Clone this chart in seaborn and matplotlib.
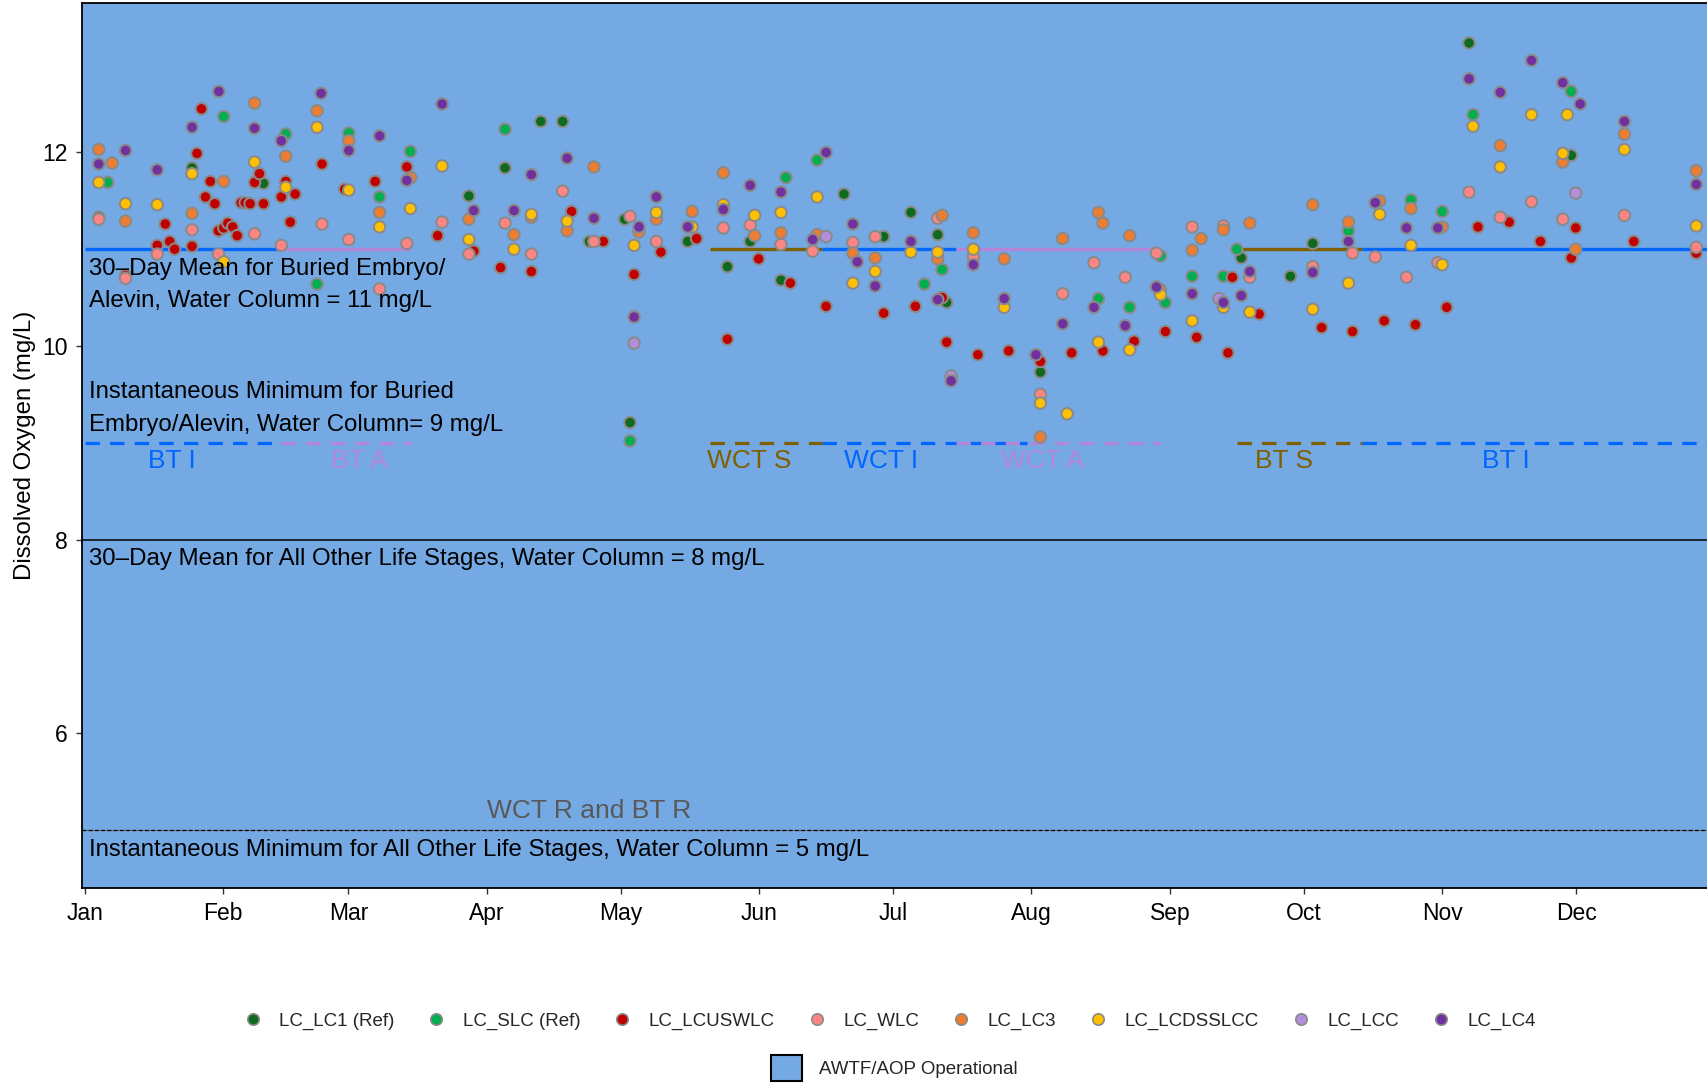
import numpy as np
import pandas as pd
import matplotlib
matplotlib.use("Agg")
import matplotlib.pyplot as plt
import matplotlib.dates as mdates
import matplotlib.transforms as mtransforms
from matplotlib.lines import Line2D
from matplotlib.patches import Patch
import seaborn as sns

YEAR_START = pd.Timestamp("2021-01-01")

# ---- dissolved oxygen samples: day offset from 1 Jan, DO in mg/L ----
lc1_day = [24.0, 40.0, 86.0, 94.1, 102.1, 107.0, 113.0, 120.9, 122.1, 135.0, 143.9, 149.0,
           155.9, 170.0, 178.9, 185.0, 191.0, 193.0, 214.0, 259.0, 270.0, 275.0, 310.0, 332.9]
lc1_do = [11.84, 11.68, 11.55, 11.84, 12.32, 12.32, 11.08, 11.31, 9.21, 11.08, 10.82, 11.08,
          10.68, 11.57, 11.13, 11.38, 11.15, 10.45, 9.73, 10.91, 10.72, 11.06, 13.13, 11.97]

slc_day = [5.1, 31.1, 45.0, 52.0, 59.1, 66.0, 72.9, 94.1, 122.1, 157.0, 164.0, 188.0, 192.0,
           227.0, 234.0, 240.9, 242.0, 248.0, 255.0, 258.0, 283.0, 297.0, 304.0, 310.9, 332.9]
slc_do = [11.69, 12.37, 12.19, 10.64, 12.20, 11.54, 12.01, 12.24, 9.02, 11.74, 11.92, 10.64, 10.79,
          10.49, 10.40, 10.93, 10.45, 10.72, 10.72, 11.00, 11.19, 11.51, 11.39, 12.39, 12.63]

lcuswlc_day = [3.1, 9.1, 16.2, 18.0, 19.0, 20.1, 24.0, 25.1, 26.1, 27.0, 28.1, 29.1, 29.9, 31.1,
               32.0, 33.1, 34.1, 35.0, 35.9, 37.0, 38.0, 39.1, 40.0, 44.0, 45.0, 46.0, 47.1, 53.1,
               58.2, 65.0, 72.1, 79.0, 87.1, 93.1, 100.0, 109.0, 116.1, 123.0, 129.0, 137.0, 143.9,
               150.9, 158.0, 166.0, 178.9, 186.0, 192.0, 193.0, 200.0, 206.9, 214.0, 221.0, 228.0,
               235.0, 242.0, 249.0, 256.0, 257.0, 263.0, 277.0, 283.9, 291.0, 298.0, 305.0, 312.0,
               319.0, 326.0, 332.9, 333.9, 346.9, 360.9]
lcuswlc_do = [11.33, 10.73, 11.04, 11.26, 11.08, 11.00, 11.03, 11.99, 12.45, 11.54, 11.70, 11.47,
              11.19, 11.22, 11.27, 11.23, 11.14, 11.48, 11.48, 11.47, 11.69, 11.78, 11.47, 11.54,
              11.70, 11.28, 11.57, 11.88, 11.62, 11.70, 11.85, 11.14, 10.98, 10.81, 10.77, 11.39,
              11.08, 10.74, 10.97, 11.11, 10.07, 10.90, 10.65, 10.41, 10.34, 10.41, 10.50, 10.04,
              9.91, 9.95, 9.84, 9.93, 9.95, 10.05, 10.15, 10.09, 9.93, 10.71, 10.33, 10.19, 10.15,
              10.26, 10.22, 10.40, 11.23, 11.28, 11.08, 10.91, 11.22, 11.08, 10.96]

wlc_day = [3.1, 9.1, 16.2, 24.0, 29.9, 38.0, 44.0, 53.1, 59.1, 66.0, 72.1, 80.0, 86.0, 94.1,
           100.0, 107.0, 114.0, 122.1, 128.0, 143.0, 149.0, 155.9, 163.0, 172.0, 177.0, 191.0,
           199.0, 214.0, 219.0, 226.0, 233.0, 240.0, 248.0, 255.0, 260.9, 275.0, 283.9, 289.0,
           296.0, 303.0, 310.0, 317.0, 324.0, 331.0, 344.8, 360.9]
wlc_do = [11.31, 10.70, 10.95, 11.20, 10.95, 11.16, 11.04, 11.26, 11.10, 10.59, 11.06, 11.28,
          10.95, 11.27, 10.95, 11.60, 11.08, 11.34, 11.08, 11.22, 11.25, 11.05, 10.98, 11.07,
          11.13, 11.32, 10.92, 9.50, 10.54, 10.86, 10.71, 10.96, 11.23, 11.24, 10.71, 10.82,
          10.96, 10.92, 10.71, 10.86, 11.59, 11.33, 11.49, 11.31, 11.35, 11.02]

lc3_day = [3.1, 6.1, 9.1, 24.0, 31.1, 38.0, 45.0, 52.0, 59.1, 66.0, 73.0, 86.0, 96.1, 100.0,
           108.0, 114.0, 124.1, 128.0, 136.0, 143.0, 150.0, 155.9, 164.0, 172.0, 177.0, 191.0,
           192.0, 199.0, 205.9, 214.0, 219.0, 227.0, 228.0, 234.0, 240.9, 248.0, 250.0, 255.0,
           260.9, 275.0, 283.0, 290.0, 297.0, 304.0, 317.0, 331.0, 333.9, 344.8, 360.9]
lc3_do = [12.03, 11.89, 11.29, 11.37, 11.70, 12.51, 11.96, 12.43, 12.12, 11.38, 11.74, 11.31,
          11.15, 11.33, 11.19, 11.85, 11.18, 11.31, 11.39, 11.79, 11.14, 11.17, 11.15, 10.96,
          10.91, 10.90, 11.35, 11.17, 10.90, 9.06, 11.11, 11.38, 11.27, 11.14, 10.58, 10.99,
          11.11, 11.20, 11.27, 11.46, 11.28, 11.50, 11.42, 11.23, 12.07, 11.90, 11.00, 12.19, 11.81]

lcdsslcc_day = [3.1, 9.1, 16.2, 24.0, 31.1, 38.0, 45.0, 52.0, 59.1, 66.0, 72.9, 80.0, 86.0, 96.1,
                100.0, 108.0, 123.0, 128.0, 136.0, 143.0, 150.0, 155.9, 164.0, 172.0, 177.0, 185.0,
                191.0, 199.0, 205.9, 214.0, 220.0, 227.0, 234.0, 240.9, 248.0, 255.0, 260.9, 275.0,
                283.0, 290.0, 297.0, 304.0, 310.9, 317.0, 324.0, 331.0, 332.0, 344.8, 360.9]
lcdsslcc_do = [11.69, 11.47, 11.46, 11.78, 10.87, 11.90, 11.64, 12.26, 11.61, 11.23, 11.42, 11.86,
               11.10, 11.00, 11.36, 11.29, 11.04, 11.38, 11.23, 11.46, 11.35, 11.38, 11.54, 10.65,
               10.77, 10.97, 10.97, 11.00, 10.40, 9.41, 9.30, 10.04, 9.96, 10.53, 10.26, 10.40,
               10.35, 10.38, 10.65, 11.36, 11.04, 10.84, 12.27, 11.85, 12.39, 11.99, 12.39, 12.03, 11.24]

lcc_day = [123.0, 166.0, 194.0, 254.0, 333.9]
lcc_do = [10.03, 11.13, 9.69, 10.49, 11.58]

lc4_day = [3.1, 9.1, 16.2, 24.0, 30.0, 38.0, 44.0, 52.9, 59.1, 66.0, 72.1, 80.0, 87.1, 96.1,
           100.0, 108.0, 114.0, 123.0, 124.1, 128.0, 135.0, 143.0, 149.0, 155.9, 163.0, 166.0,
           172.0, 173.0, 177.0, 185.0, 191.0, 194.0, 199.0, 205.9, 213.0, 219.0, 226.0, 233.0,
           240.0, 248.0, 255.0, 259.0, 260.9, 275.0, 283.0, 289.0, 296.0, 303.0, 310.0, 317.0,
           324.0, 331.0, 334.9, 344.8, 360.9]
lc4_do = [11.88, 12.02, 11.82, 12.26, 12.63, 12.25, 12.12, 12.61, 12.02, 12.17, 11.71, 12.50,
          11.40, 11.40, 11.77, 11.94, 11.32, 10.30, 11.23, 11.54, 11.23, 11.41, 11.66, 11.59,
          11.10, 12.00, 11.26, 10.87, 10.62, 11.08, 10.48, 9.64, 10.84, 10.49, 9.91, 10.23,
          10.40, 10.21, 10.61, 10.54, 10.45, 10.52, 10.77, 10.76, 11.08, 11.48, 11.22, 11.22,
          12.76, 12.62, 12.95, 12.72, 12.50, 12.32, 11.67]

sites = ["LC_LC1 (Ref)", "LC_SLC (Ref)", "LC_LCUSWLC", "LC_WLC", "LC_LC3",
         "LC_LCDSSLCC", "LC_LCC", "LC_LC4"]
site_days = [lc1_day, slc_day, lcuswlc_day, wlc_day, lc3_day, lcdsslcc_day, lcc_day, lc4_day]
site_dos = [lc1_do, slc_do, lcuswlc_do, wlc_do, lc3_do, lcdsslcc_do, lcc_do, lc4_do]
site_colors = ["#0E6A1E", "#00B050", "#C00000", "#FF8585", "#ED7D31",
               "#FFC000", "#B48EDB", "#7030A0"]

# ---- life-stage periods and DO criteria ----
stage_names = ["BT I", "BT A", "WCT S", "WCT I", "WCT A", "BT S", "BT I"]
stage_start = ["2021-01-01", "2021-02-14", "2021-05-21", "2021-06-15", "2021-07-15", "2021-09-16", "2021-10-14"]
stage_end = ["2021-02-14", "2021-03-15", "2021-06-15", "2021-07-15", "2021-08-29", "2021-10-14", "2021-12-31"]
stage_min_end = ["2021-02-14", "2021-03-15", "2021-06-15", "2021-07-31", "2021-08-30", "2021-10-14", "2021-12-31"]
stage_label_day = [19.5, 61.4, 148.7, 178.4, 214.5, 268.6, 318.3]
stage_colors = ["#0066FF", "#B486DA", "#7F6000", "#0066FF", "#B486DA", "#7F6000", "#0066FF"]

mean_embryo = 11
min_embryo = 9
mean_other = 8
min_other = 5

awtf_label = "AWTF/AOP Operational"
awtf_start = "2020-12-31"
awtf_end = "2022-01-01"
awtf_color = "#74A9E3"

frames = []
for name, days, vals in zip(sites, site_days, site_dos):
    frames.append(pd.DataFrame({
        "site": name,
        "date": YEAR_START + pd.to_timedelta(np.asarray(days), unit="D"),
        "do": vals,
    }))
df = pd.concat(frames, ignore_index=True)

sns.set_style("ticks")
plt.rcParams["font.family"] = ["Liberation Sans", "DejaVu Sans"]

fig = plt.figure(figsize=(17.07, 10.84), dpi=100)
ax = fig.add_axes([0.0478, 0.1805, 0.9522, 0.8167])

# operational period shading
ax.axvspan(pd.Timestamp(awtf_start), pd.Timestamp(awtf_end), color=awtf_color, zorder=0, lw=0)

# life-stage criteria segments
for s0, s1, col in zip(stage_start, stage_end, stage_colors):
    ax.plot([pd.Timestamp(s0), pd.Timestamp(s1)], [mean_embryo, mean_embryo],
            color=col, lw=2.4, solid_capstyle="butt", zorder=1.5)
for i in [3, 0, 1, 2, 4, 5, 6]:
    ax.plot([pd.Timestamp(stage_start[i]), pd.Timestamp(stage_min_end[i])], [min_embryo, min_embryo],
            color=stage_colors[i], lw=2.3, ls=(0, (4.5, 3.2)), dash_capstyle="butt", zorder=1.5)

ax.axhline(mean_other, color="black", lw=1.1, zorder=1.5)
ax.axhline(min_other, color="#666666", lw=0.8, zorder=1.4)
ax.axhline(min_other, color="black", lw=0.9, ls=(0, (3, 2)), zorder=1.5)

sns.scatterplot(data=df, x="date", y="do", hue="site", hue_order=sites,
                palette=dict(zip(sites, site_colors)), s=68, edgecolor="#8A8A8A",
                linewidth=1.45, legend=False, ax=ax, zorder=3)

# stage labels
for name, d, col in zip(stage_names, stage_label_day, stage_colors):
    ax.text(YEAR_START + pd.Timedelta(days=d), 8.81, name, color=col, fontsize=19,
            ha="center", va="center", zorder=4)
ax.text(YEAR_START + pd.Timedelta(days=113), 5.20, "WCT R and BT R", color="#595959",
        fontsize=19, ha="center", va="center", zorder=4)

# criteria annotations
trans = mtransforms.blended_transform_factory(ax.transAxes, ax.transData)
notes = [
    ("30\u2013Day Mean for Buried Embryo/", 10.80),
    ("Alevin, Water Column = 11 mg/L", 10.47),
    ("Instantaneous Minimum for Buried", 9.53),
    ("Embryo/Alevin, Water Column= 9 mg/L", 9.18),
    ("30\u2013Day Mean for All Other Life Stages, Water Column = 8 mg/L", 7.80),
    ("Instantaneous Minimum for All Other Life Stages, Water Column = 5 mg/L", 4.79),
]
for txt, yv in notes:
    ax.text(0.0047, yv, txt, transform=trans, fontsize=17.3, color="black",
            ha="left", va="center", zorder=4)

# axes
ax.set_xlim(YEAR_START - pd.Timedelta(days=0.74), YEAR_START + pd.Timedelta(days=363.3))
ax.set_ylim(4.398, 13.543)
ax.xaxis.set_major_locator(mdates.MonthLocator())
ax.xaxis.set_major_formatter(mdates.DateFormatter("%b"))
ax.set_yticks([6, 8, 10, 12])
ax.set_xlabel("")
ax.set_ylabel("Dissolved Oxygen (mg/L)", fontsize=17.3, color="black")
ax.yaxis.set_label_coords(-0.0283, 0.5)
ax.tick_params(axis="both", labelsize=16.5, length=4, width=1, color="#333333",
               labelcolor="black", direction="out")
ax.tick_params(axis="x", pad=6)
ax.tick_params(axis="y", pad=6)
for side in ["left", "top", "bottom"]:
    ax.spines[side].set_color("black")
    ax.spines[side].set_linewidth(1.3)
ax.spines["right"].set_visible(False)
ax.grid(False)

# legends
site_handles = [Line2D([0], [0], marker="o", ls="none", markersize=8.2,
                       markerfacecolor=c, markeredgecolor="#8A8A8A", markeredgewidth=1.2)
                for c in site_colors]
leg1 = fig.legend(site_handles, sites, loc="center", bbox_to_anchor=(0.521, 0.0581),
                  ncol=8, frameon=False, fontsize=13.5, handlelength=1.0,
                  handletextpad=0.9, columnspacing=1.75)
awtf_handle = Patch(facecolor=awtf_color, edgecolor="black", linewidth=1.5)
leg2 = fig.legend([awtf_handle], [awtf_label], loc="center", bbox_to_anchor=(0.524, 0.0148),
                  frameon=False, fontsize=13.5, handlelength=1.63, handleheight=1.76,
                  handletextpad=0.9)

fig.savefig("out.png", dpi=100)
